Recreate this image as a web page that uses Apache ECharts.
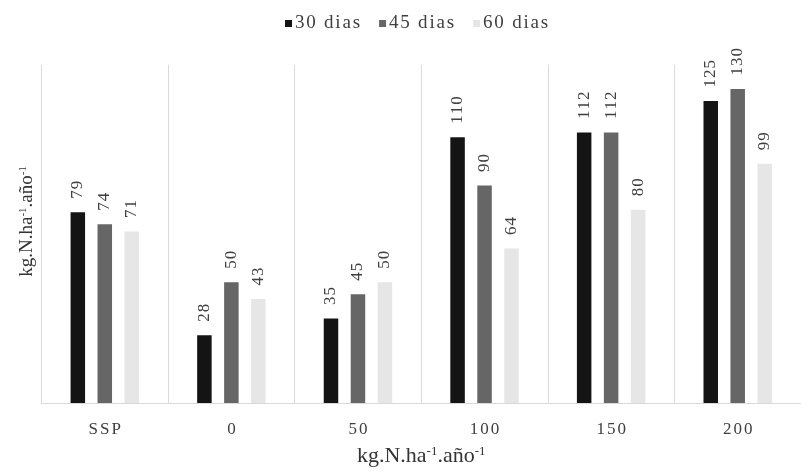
<!DOCTYPE html>
<html>
<head>
<meta charset="utf-8">
<script src="https://cdn.jsdelivr.net/npm/echarts@6/dist/echarts.min.js"></script>
<style>html,body{margin:0;padding:0;background:#fff}#c{width:801px;height:472px}</style>
</head>
<body>
<div id="c"></div>
<script>
var categories = ['SSP', '0', '50', '100', '150', '200'];
var seriesNames = ['30 dias', '45 dias', '60 dias'];
var dias30 = [79, 28, 35, 110, 112, 125];
var dias45 = [74, 50, 45, 90, 112, 130];
var dias60 = [71, 43, 50, 64, 80, 99];
var axisTitle = ['kg.N.ha', '-1', '.año', '-1'];
var colors = ['#141414', '#666666', '#e6e6e6'];
var FONT = '"Liberation Serif", "DejaVu Serif", serif';

// letter-spaced text via one rich token per character
function spaced(s) {
  return String(s).split('').map(function (c) { return '{l|' + c + '}'; }).join('');
}
function titleText() {
  return '{b|' + axisTitle[0] + '}{s|' + axisTitle[1] + '}{b|' + axisTitle[2] + '}{s|' + axisTitle[3] + '}';
}

function mk(name, data, color) {
  return {
    name: name, type: 'bar', data: data, barWidth: 14.5, barGap: '86%',
    itemStyle: { color: color },
    label: {
      show: true, position: 'top', rotate: 90, align: 'left', verticalAlign: 'middle',
      distance: 13, color: '#404040', fontFamily: FONT, fontSize: 17,
      formatter: function (p) { return spaced(p.value); },
      rich: { l: { fontFamily: FONT, fontSize: 17, color: '#404040', padding: [0, 0.5] } }
    }
  };
}

var chart = echarts.init(document.getElementById('c'));
chart.setOption({
  animation: false,
  textStyle: { fontFamily: FONT },
  legend: {
    top: 9, left: 280, icon: 'rect', itemWidth: 7, itemHeight: 7, itemGap: 19,
    formatter: function (n) { return spaced(n); },
    textStyle: {
      fontFamily: FONT, fontSize: 19, color: '#404040', padding: [0, 0, 0, -3],
      rich: { l: { fontFamily: FONT, fontSize: 19, color: '#404040', padding: [0, 0.9] } }
    },
    data: seriesNames
  },
  grid: { left: 41.5, right: -10.5, top: 64.8, bottom: 68.7 },
  xAxis: {
    type: 'category', data: categories,
    name: titleText(), nameLocation: 'middle', nameGap: 42,
    nameTextStyle: {
      rich: {
        b: { fontFamily: FONT, fontSize: 22, color: '#333' },
        s: { fontFamily: FONT, fontSize: 13, color: '#333', verticalAlign: 'top' }
      }
    },
    axisLine: { lineStyle: { color: '#d9d9d9' } },
    axisTick: { show: false, interval: 0 },
    axisLabel: {
      interval: 0, hideOverlap: false,
      fontFamily: FONT, fontSize: 17, color: '#404040', margin: 18,
      formatter: function (v) { return spaced(v); },
      rich: { l: { fontFamily: FONT, fontSize: 17, color: '#404040', padding: [0, 1] } }
    },
    splitLine: { show: true, interval: 0, lineStyle: { color: '#d9d9d9' } }
  },
  yAxis: {
    type: 'value', min: 0, max: 140,
    name: titleText(), nameLocation: 'middle', nameGap: 5,
    nameTextStyle: {
      padding: [0, 0, 0, 25],
      rich: {
        b: { fontFamily: FONT, fontSize: 19, color: '#333' },
        s: { fontFamily: FONT, fontSize: 11, color: '#333', verticalAlign: 'top' }
      }
    },
    axisLine: { show: false }, axisTick: { show: false }, axisLabel: { show: false },
    splitLine: { show: false }
  },
  series: [mk(seriesNames[0], dias30, colors[0]), mk(seriesNames[1], dias45, colors[1]), mk(seriesNames[2], dias60, colors[2])]
});
</script>
</body>
</html>
